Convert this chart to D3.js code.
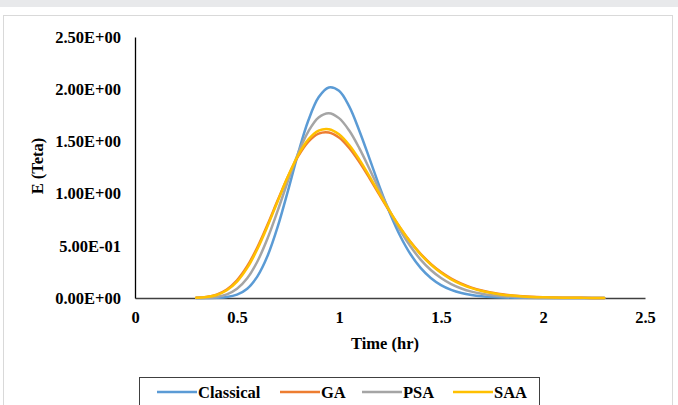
<!DOCTYPE html>
<html><head><meta charset="utf-8">
<script src="https://cdn.jsdelivr.net/npm/d3@7"></script>
<style>html,body{margin:0;padding:0;background:#fff;}svg{display:block;}</style>
</head><body>
<script>
const times = [0.30,0.35,0.40,0.45,0.50,0.55,0.60,0.65,0.70,0.75,0.80,0.85,0.90,0.95,1.00,1.05,1.10,1.15,1.20,1.25,1.30,1.35,1.40,1.45,1.50,1.55,1.60,1.65,1.70,1.75,1.80,1.90,2.00,2.10,2.20,2.30];
const classical = [0.0000,0.0003,0.0018,0.0088,0.032,0.089,0.207,0.404,0.685,1.028,1.388,1.702,1.923,2.017,1.985,1.835,1.600,1.333,1.060,0.809,0.594,0.421,0.289,0.192,0.124,0.078,0.048,0.029,0.017,0.0097,0.0055,0.0016,0.0004,0.0001,0,0];
const ga = [0.0027,0.0109,0.033,0.082,0.170,0.304,0.486,0.704,0.938,1.164,1.358,1.498,1.575,1.586,1.537,1.437,1.302,1.146,0.982,0.822,0.672,0.538,0.423,0.327,0.248,0.186,0.137,0.099,0.071,0.051,0.035,0.017,0.0077,0.0034,0.0015,0.0006];
const psa = [0.0004,0.0025,0.0106,0.034,0.088,0.189,0.350,0.572,0.839,1.123,1.387,1.597,1.729,1.770,1.723,1.604,1.433,1.234,1.026,0.828,0.648,0.495,0.368,0.268,0.191,0.133,0.091,0.061,0.041,0.026,0.017,0.0067,0.0025,0.0009,0.0003,0.0001];
const saa = [0.0021,0.0091,0.029,0.074,0.157,0.288,0.469,0.689,0.930,1.165,1.369,1.519,1.603,1.617,1.568,1.465,1.325,1.163,0.993,0.827,0.673,0.536,0.418,0.321,0.242,0.179,0.131,0.094,0.067,0.047,0.032,0.015,0.0067,0.0028,0.0012,0.0005];
const seriesNames = ["Classical","GA","PSA","SAA"];
const seriesColors = ["#5B9BD5","#ED7D31","#A5A5A5","#FFC000"];
const xTicks = [0,0.5,1,1.5,2,2.5];
const xTickLabels = ["0","0.5","1","1.5","2","2.5"];
const yTicks = [0,0.5,1,1.5,2,2.5];
const yTickLabels = ["0.00E+00","5.00E-01","1.00E+00","1.50E+00","2.00E+00","2.50E+00"];

const W = 678, H = 405;
const svg = d3.select("body").append("svg").attr("width", W).attr("height", H);
svg.append("rect").attr("x",0).attr("y",0).attr("width",W).attr("height",7).attr("fill","#e8e9eb");
svg.append("rect").attr("x",3.5).attr("y",15.5).attr("width",669).attr("height",400).attr("fill","#fff").attr("stroke","#d9d9d9");

const font = "'Liberation Serif','Times New Roman',serif";
const fs = "16.5px";
const x = d3.scaleLinear().domain([0,2.5]).range([135,645]);
const y = d3.scaleLinear().domain([0,2.5]).range([298,37]);

// axes
const xAxis = svg.append("g").attr("transform","translate(0,298)")
  .call(d3.axisBottom(x).tickValues(xTicks).tickSize(0).tickPadding(13).tickFormat((d,i)=>xTickLabels[i]));
const yAxis = svg.append("g").attr("transform","translate(135,0)")
  .call(d3.axisLeft(y).tickValues(yTicks).tickSize(0).tickPadding(14).tickFormat((d,i)=>yTickLabels[i]));
[xAxis,yAxis].forEach(g=>{
  g.selectAll("text").attr("font-family",font).attr("font-weight","bold").attr("font-size",fs).attr("fill","#000");
});
xAxis.select(".domain").attr("stroke","#404040").attr("stroke-width",1.3);
yAxis.select(".domain").attr("stroke","#000").attr("stroke-width",1.3);

// lines
const allSeries = [classical, ga, psa, saa];
const line = d3.line().x((d,i)=>x(times[i])).y(d=>y(Math.max(0,d))).curve(d3.curveCatmullRom.alpha(0.5));
allSeries.forEach((s,k)=>{
  svg.append("path").datum(s).attr("d",line).attr("fill","none")
    .attr("stroke",seriesColors[k]).attr("stroke-width",2.5).attr("stroke-linejoin","round").attr("stroke-linecap","round");
});

// axis titles
svg.append("text").attr("x",385).attr("y",349).attr("text-anchor","middle")
  .attr("font-family",font).attr("font-weight","bold").attr("font-size",fs).text("Time (hr)");
svg.append("text").attr("transform","translate(43,166) rotate(-90)").attr("text-anchor","middle")
  .attr("font-family",font).attr("font-weight","bold").attr("font-size",fs).text("E (Teta)");

// legend
svg.append("rect").attr("x",139.5).attr("y",377.5).attr("width",400).attr("height",40).attr("fill","#fff").attr("stroke","#404040");
const legX = [157,280,362,453];
seriesNames.forEach((n,k)=>{
  svg.append("line").attr("x1",legX[k]).attr("x2",legX[k]+40).attr("y1",392).attr("y2",392)
    .attr("stroke",seriesColors[k]).attr("stroke-width",2.5);
  svg.append("text").attr("x",legX[k]+41).attr("y",398).attr("font-family",font).attr("font-weight","bold")
    .attr("font-size",fs).attr("fill","#000").text(n);
});
</script>
</body></html>
